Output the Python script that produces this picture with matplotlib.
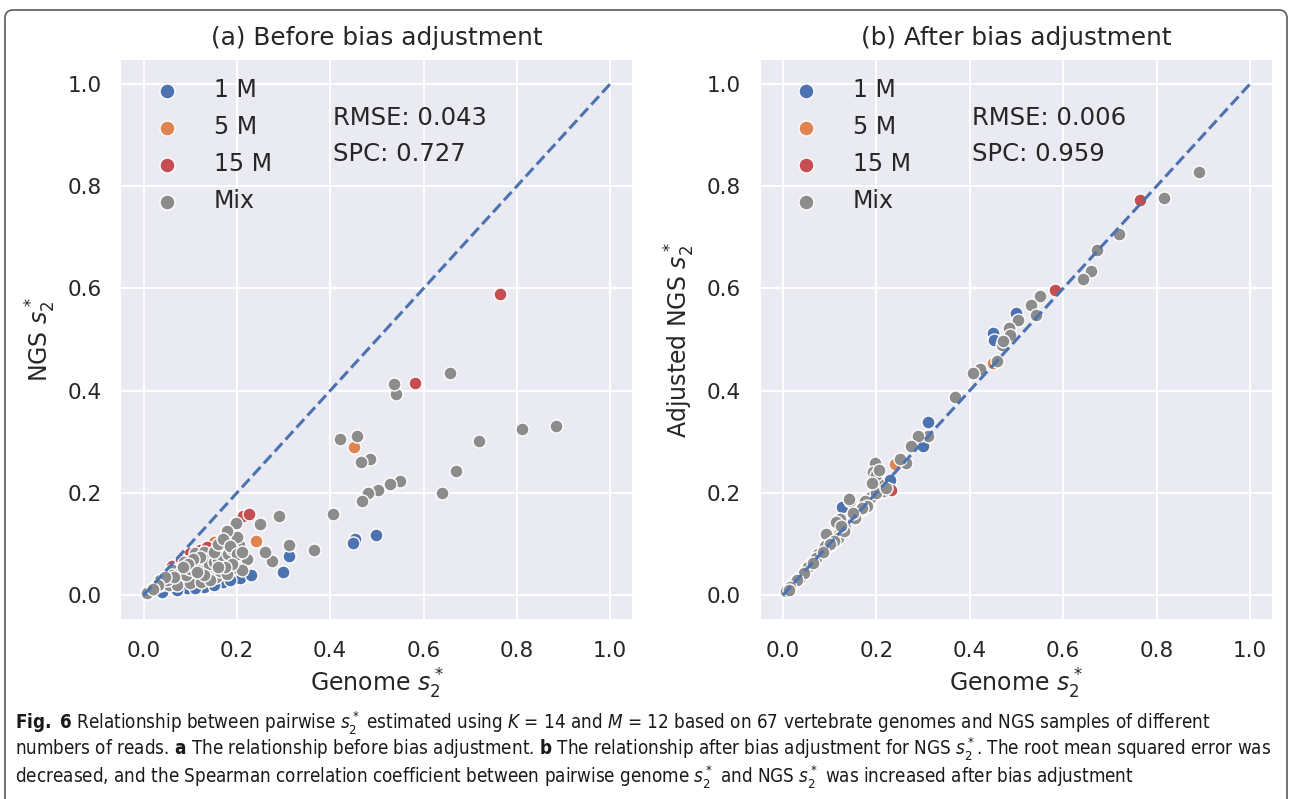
import matplotlib
matplotlib.use("Agg")
import matplotlib.pyplot as plt
import seaborn as sns
from matplotlib import font_manager
from matplotlib.patches import FancyBboxPatch
from matplotlib.transforms import IdentityTransform

# ---------------- data ----------------
categories = ["1 M", "5 M", "15 M", "Mix"]
colors = ["#4C72B0", "#DD8452", "#C44E52", "#8C8C8C"]

# (a) before bias adjustment: genome s2* (x) vs NGS s2* (y)
before_x_1M = [0.454, 0.448, 0.499, 0.311, 0.299, 0.171, 0.200, 0.207, 0.129, 0.093, 0.072, 0.040, 0.150, 0.230, 0.110, 0.185]
before_y_1M = [0.109, 0.101, 0.117, 0.076, 0.045, 0.026, 0.033, 0.033, 0.016, 0.013, 0.010, 0.006, 0.020, 0.040, 0.014, 0.030]
before_x_5M = [0.450, 0.240, 0.150, 0.170, 0.130, 0.090]
before_y_5M = [0.289, 0.106, 0.103, 0.108, 0.085, 0.060]
before_x_15M = [0.764, 0.582, 0.214, 0.225, 0.121, 0.100, 0.061, 0.080, 0.135]
before_y_15M = [0.590, 0.414, 0.155, 0.159, 0.089, 0.082, 0.057, 0.068, 0.093]
before_x_mix = [0.884, 0.812, 0.719, 0.670, 0.657, 0.640, 0.549, 0.540, 0.537, 0.529,
                0.502, 0.486, 0.482, 0.468, 0.465, 0.457, 0.421, 0.405, 0.366, 0.311,
                0.291, 0.276, 0.260, 0.250, 0.222, 0.204, 0.200, 0.197, 0.179, 0.171,
                0.157, 0.129, 0.189, 0.182, 0.200, 0.171, 0.164, 0.143, 0.136, 0.125,
                0.132, 0.143, 0.114, 0.100, 0.093, 0.107, 0.079, 0.068, 0.057, 0.075,
                0.093, 0.114, 0.154, 0.164, 0.046, 0.036, 0.025, 0.014, 0.054, 0.072,
                0.100, 0.122, 0.143, 0.179, 0.211, 0.111, 0.129, 0.086, 0.061, 0.036, 0.007,
                0.050, 0.060, 0.080, 0.090, 0.100, 0.110, 0.120, 0.130, 0.140, 0.150,
                0.160, 0.170, 0.180, 0.190, 0.150, 0.160, 0.170, 0.185, 0.120, 0.105,
                0.095, 0.085, 0.065, 0.045, 0.030, 0.020, 0.200, 0.210, 0.190, 0.175,
                0.160, 0.130, 0.115]
before_y_mix = [0.330, 0.325, 0.301, 0.243, 0.434, 0.200, 0.223, 0.393, 0.412, 0.218,
                0.205, 0.266, 0.200, 0.183, 0.260, 0.312, 0.305, 0.159, 0.089, 0.098,
                0.155, 0.067, 0.085, 0.139, 0.070, 0.098, 0.114, 0.141, 0.126, 0.098,
                0.091, 0.078, 0.068, 0.052, 0.052, 0.065, 0.082, 0.078, 0.068, 0.055,
                0.046, 0.049, 0.068, 0.065, 0.052, 0.042, 0.055, 0.046, 0.036, 0.029,
                0.029, 0.036, 0.036, 0.046, 0.029, 0.020, 0.016, 0.010, 0.020, 0.020,
                0.023, 0.026, 0.029, 0.042, 0.049, 0.082, 0.085, 0.065, 0.049, 0.029, 0.003,
                0.030, 0.040, 0.045, 0.040, 0.050, 0.055, 0.060, 0.070, 0.060, 0.065,
                0.070, 0.075, 0.080, 0.090, 0.085, 0.100, 0.110, 0.095, 0.075, 0.070,
                0.060, 0.055, 0.035, 0.035, 0.020, 0.012, 0.080, 0.085, 0.060, 0.055,
                0.055, 0.040, 0.045]

# (b) after bias adjustment: genome s2* (x) vs adjusted NGS s2* (y)
after_x_1M = [0.500, 0.450, 0.451, 0.311, 0.300, 0.126, 0.050, 0.100, 0.150, 0.020, 0.230, 0.170]
after_y_1M = [0.552, 0.513, 0.499, 0.338, 0.292, 0.173, 0.050, 0.100, 0.150, 0.022, 0.225, 0.168]
after_x_5M = [0.450, 0.239, 0.120, 0.060, 0.180]
after_y_5M = [0.454, 0.256, 0.120, 0.060, 0.180]
after_x_15M = [0.765, 0.582, 0.231, 0.100, 0.150, 0.050]
after_y_15M = [0.773, 0.596, 0.206, 0.098, 0.148, 0.050]
after_x_mix = [0.890, 0.815, 0.720, 0.672, 0.659, 0.642, 0.550, 0.532, 0.541, 0.504,
               0.484, 0.487, 0.468, 0.471, 0.459, 0.421, 0.407, 0.368, 0.311, 0.289,
               0.275, 0.264, 0.250, 0.196, 0.193, 0.204, 0.214, 0.189, 0.175, 0.161,
               0.143, 0.141, 0.121, 0.114, 0.132, 0.118, 0.093, 0.089, 0.075, 0.071,
               0.054, 0.036, 0.025, 0.007, 0.200, 0.180, 0.170, 0.155, 0.150, 0.130,
               0.125, 0.110, 0.100, 0.085, 0.065, 0.045, 0.030, 0.015, 0.012, 0.220,
               0.200, 0.190, 0.205]
after_y_mix = [0.828, 0.776, 0.707, 0.675, 0.635, 0.618, 0.585, 0.568, 0.548, 0.539,
               0.522, 0.508, 0.490, 0.498, 0.457, 0.443, 0.434, 0.388, 0.312, 0.312,
               0.292, 0.259, 0.266, 0.259, 0.240, 0.220, 0.204, 0.191, 0.184, 0.165,
               0.184, 0.188, 0.148, 0.142, 0.132, 0.112, 0.119, 0.096, 0.080, 0.073,
               0.054, 0.034, 0.027, 0.008, 0.200, 0.175, 0.170, 0.150, 0.160, 0.125,
               0.135, 0.105, 0.100, 0.085, 0.062, 0.044, 0.030, 0.015, 0.010, 0.210,
               0.235, 0.220, 0.245]

panel_titles = ["(a) Before bias adjustment", "(b) After bias adjustment"]
y_labels = ["NGS $s_2^*$", "Adjusted NGS $s_2^*$"]
x_label = "Genome $s_2^*$"
rmse_texts = ["RMSE: 0.043", "RMSE: 0.006"]
spc_texts = ["SPC: 0.727", "SPC: 0.959"]
identity_line = [0.0, 1.0]
tick_values = [0.0, 0.2, 0.4, 0.6, 0.8, 1.0]
tick_labels = ["0.0", "0.2", "0.4", "0.6", "0.8", "1.0"]

caption_lines = [
    r"$\mathbf{Fig.}$ $\mathbf{6}$ Relationship between pairwise $s_2^*$ estimated using $K$ = 14 and $M$ = 12 based on 67 vertebrate genomes and NGS samples of different",
    r"numbers of reads. $\mathbf{a}$ The relationship before bias adjustment. $\mathbf{b}$ The relationship after bias adjustment for NGS $s_2^*$. The root mean squared error was",
    r"decreased, and the Spearman correlation coefficient between pairwise genome $s_2^*$ and NGS $s_2^*$ was increased after bias adjustment",
]

# ---------------- style ----------------
sns.set_theme(style="darkgrid")
plt.rcParams["font.family"] = ["DejaVu Sans"]
plt.rcParams["mathtext.fontset"] = "dejavusans"

# caption font: prefer a condensed face, else a narrow-ish sans
cap_family, cap_stretch = None, "normal"
for f in font_manager.fontManager.ttflist:
    if f.name == "Liberation Sans Narrow":
        cap_family, cap_stretch = f.name, "normal"
        break
if cap_family is None:
    for f in font_manager.fontManager.ttflist:
        st = str(f.stretch)
        if st in ("condensed", "semi-condensed", "extra-condensed") and f.style == "normal":
            cap_family, cap_stretch = f.name, st
            break
if cap_family is None:
    names = {f.name for f in font_manager.fontManager.ttflist}
    cap_family = "Roboto" if "Roboto" in names else "Liberation Sans"
pat = cap_family if cap_stretch == "normal" else f"{cap_family}:stretch={cap_stretch}"
plt.rcParams["mathtext.rm"] = pat
plt.rcParams["mathtext.it"] = pat + ":italic"
plt.rcParams["mathtext.bf"] = pat + ":bold"
plt.rcParams["mathtext.sf"] = pat

W, H = 1290, 799
fig = plt.figure(figsize=(W / 100, H / 100), dpi=100)
fig.patch.set_facecolor("white")

TXT = "#262626"
axes_pos = [
    [121.3 / W, (H - 619) / H, 510.7 / W, 559 / H],
    [760.6 / W, (H - 619) / H, 511.3 / W, 559 / H],
]

panels = [
    [(before_x_1M, before_y_1M), (before_x_5M, before_y_5M), (before_x_15M, before_y_15M), (before_x_mix, before_y_mix)],
    [(after_x_1M, after_y_1M), (after_x_5M, after_y_5M), (after_x_15M, after_y_15M), (after_x_mix, after_y_mix)],
]

for i in range(2):
    ax = fig.add_axes(axes_pos[i])
    ax.set_facecolor("#EAEAF2")
    ax.grid(True, color="white", linewidth=1.4)
    ax.set_axisbelow(True)
    for s in ax.spines.values():
        s.set_visible(False)
    handles = []
    for (xs, ys), lab, c in zip(panels[i], categories, colors):
        h = ax.scatter(xs, ys, s=88, color=c, edgecolors="white", linewidths=1.0,
                       label=lab, zorder=3)
        handles.append(h)
    ax.plot(identity_line, identity_line, linestyle="--", color=colors[0],
            linewidth=2.2, zorder=4)
    ax.set_xlim(-0.048, 1.047)
    ax.set_ylim(-0.047, 1.047)
    ax.set_xticks(tick_values)
    ax.set_xticklabels(tick_labels)
    ax.set_yticks(tick_values)
    ax.set_yticklabels(tick_labels)
    ax.tick_params(axis="both", length=0, labelsize=15.5, labelcolor=TXT)
    ax.tick_params(axis="x", pad=16)
    ax.tick_params(axis="y", pad=14)
    ax.set_title(panel_titles[i], fontsize=17.8, color=TXT, pad=11)
    ax.set_xlabel(x_label, fontsize=17, color=TXT, labelpad=4)
    ax.set_ylabel(y_labels[i], fontsize=17, color=TXT, labelpad=7)
    ax.text(0.405, 0.919, rmse_texts[i], fontsize=17.5, color=TXT, va="baseline")
    ax.text(0.405, 0.850, spc_texts[i], fontsize=17.5, color=TXT, va="baseline")
    leg = ax.legend(handles=handles, loc="upper left", bbox_to_anchor=(0.066, 0.968),
                    frameon=False, fontsize=17, borderaxespad=0, borderpad=0,
                    handlelength=1.0, handletextpad=1.48, labelspacing=0.55,
                    markerscale=1.15)
    for t in leg.get_texts():
        t.set_color(TXT)

# border box
border = FancyBboxPatch((5, -30), 1282, 789 + 30, boxstyle="round,pad=0,rounding_size=8",
                        transform=IdentityTransform(), fill=False, edgecolor="#5a5a5a",
                        linewidth=1.2, figure=fig)
fig.patches.append(border)

# caption, sized so the first line spans the same width as in the figure
renderer = fig.canvas.get_renderer()
cap_base = [728, 755, 782]
cap_texts = []
for line, yb in zip(caption_lines, cap_base):
    t = fig.text(15 / W, 1 - yb / H, line, fontsize=13, family=cap_family,
                 fontstretch=cap_stretch, color="#1a1a1a", va="baseline", ha="left",
                 math_fontfamily="custom")
    cap_texts.append(t)
w1 = cap_texts[0].get_window_extent(renderer).width
size = min(14.5, 13 * 1190.0 / w1)
for t in cap_texts:
    t.set_fontsize(size)

fig.savefig("out.png", dpi=100, facecolor="white")
